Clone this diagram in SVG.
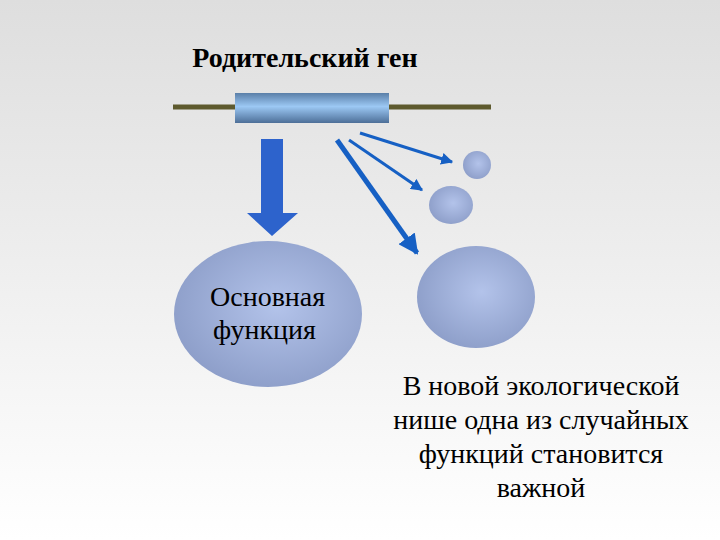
<svg xmlns="http://www.w3.org/2000/svg" width="720" height="540" viewBox="0 0 720 540">
<defs>
<linearGradient id="bg" x1="0" y1="0" x2="0" y2="1"><stop offset="0" stop-color="#dedede"/><stop offset="1" stop-color="#ffffff"/></linearGradient>
<linearGradient id="cyl" x1="0" y1="0" x2="0" y2="1"><stop offset="0" stop-color="#5a7fa8"/><stop offset="0.45" stop-color="#9cc8f4"/><stop offset="1" stop-color="#4d6f98"/></linearGradient>
<radialGradient id="ball" cx="0.55" cy="0.45" r="0.6"><stop offset="0" stop-color="#b3c3ea"/><stop offset="1" stop-color="#8c9dc8"/></radialGradient>
<marker id="ah" viewBox="0 0 10 10" refX="9" refY="5" markerWidth="4" markerHeight="4" orient="auto"><path d="M0,0L10,5L0,10z" fill="#1660c4"/></marker>
<style>.a{stroke:#1660c4;fill:none;marker-end:url(#ah)}.t{font-family:'Liberation Serif','DejaVu Serif',serif;font-size:28px;fill:#000}</style>
</defs>
<rect width="720" height="540" fill="url(#bg)"/>
<g id="gene">
<line x1="173" y1="107" x2="491" y2="107" stroke="#5e5a2e" stroke-width="5"/>
<rect x="235" y="93" width="154" height="30" fill="url(#cyl)"/>
<text x="305" y="67" class="t" font-family="Liberation Serif, serif" font-size="28" font-weight="bold" text-anchor="middle">Родительский ген</text>
</g>
<g id="connectors">
<path d="M261,139H283V213H298L272,236L247,213H261Z" fill="#2d63cc"/>
<line class="a" x1="360" y1="133" x2="452" y2="162" stroke-width="3"/>
<line class="a" x1="349" y1="140" x2="422" y2="190" stroke-width="3"/>
<line class="a" x1="337" y1="140" x2="417" y2="253" stroke-width="5"/>
</g>
<g id="main">
<ellipse cx="268" cy="314" rx="94" ry="73" fill="url(#ball)"/>
<text class="t" font-family="Liberation Serif, serif" x="210" y="306">Основная</text>
<text class="t" font-family="Liberation Serif, serif" x="213" y="339">функция</text>
</g>
<g id="small"><ellipse cx="477" cy="165" rx="14" ry="14" fill="url(#ball)"/></g>
<g id="medium"><ellipse cx="451" cy="205" rx="22" ry="19" fill="url(#ball)"/></g>
<g id="large"><ellipse cx="476" cy="297" rx="59" ry="51" fill="url(#ball)"/></g>
<g id="note" text-anchor="middle">
<text class="t" font-family="Liberation Serif, serif" x="541" y="395">В новой экологической</text>
<text class="t" font-family="Liberation Serif, serif" x="541" y="429">нише одна из случайных</text>
<text class="t" font-family="Liberation Serif, serif" x="541" y="463">функций становится</text>
<text class="t" font-family="Liberation Serif, serif" x="541" y="497">важной</text>
</g>
</svg>
